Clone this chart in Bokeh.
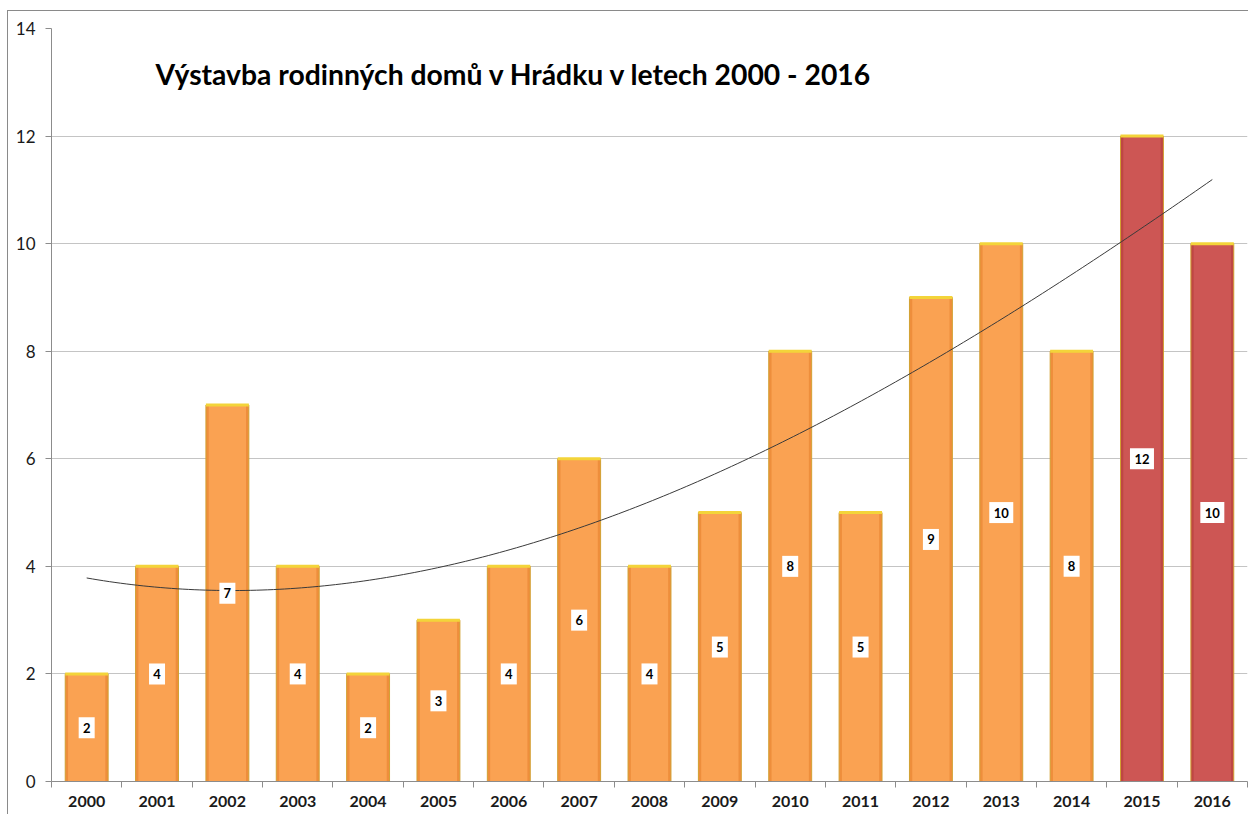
import numpy as np
from bokeh.plotting import figure
from bokeh.models import ColumnDataSource, FixedTicker, Label, Range1d
from bokeh.core.properties import value
from bokeh.embed import file_html
from bokeh.resources import INLINE

# ---- data ----
years = [2000, 2001, 2002, 2003, 2004, 2005, 2006, 2007, 2008,
         2009, 2010, 2011, 2012, 2013, 2014, 2015, 2016]
houses = [2, 4, 7, 4, 2, 3, 4, 6, 4, 5, 8, 5, 9, 10, 8, 12, 10]
highlight_years = [2015, 2016]
title_text = "Výstavba rodinných domů v Hrádku v letech 2000 - 2016"
y_ticks = [0, 2, 4, 6, 8, 10, 12, 14]
trend_order = 3

ORANGE = "#FAA252"
ORANGE_EDGE = "#EE8E3C"
RED = "#CD5654"
RED_EDGE = "#BE4744"
BAR_W = 0.61

fills = [RED if y in highlight_years else ORANGE for y in years]
edges = [RED_EDGE if y in highlight_years else ORANGE_EDGE for y in years]
labs = [str(h) for h in houses]
src = ColumnDataSource(dict(
    x=years, top=houses, fill=fills, edge=edges,
    mid=[h / 2 for h in houses], lab=labs,
    boxw=[8 + 8 * len(s) for s in labs],
    x0=[y - BAR_W / 2 for y in years], x1=[y + BAR_W / 2 for y in years],
))

p = figure(width=1248, height=814, output_backend="svg", toolbar_location=None,
           x_range=Range1d(years[0] - 0.5, years[-1] + 0.5),
           y_range=Range1d(0, 14),
           min_border_left=51, min_border_right=1, min_border_top=28,
           min_border_bottom=33)
p.stylesheets = [":host::after { content: ''; position: absolute; left: 7px; top: 10px; "
                 "right: 0px; bottom: 0px; border-left: 1px solid #8a8a8a; "
                 "border-top: 1px solid #8a8a8a; pointer-events: none; z-index: 10; }"]
p.outline_line_color = None
p.background_fill_color = "white"
p.border_fill_color = "white"

# grid
p.xgrid.grid_line_color = None
p.ygrid.grid_line_color = "#C4C4C4"
p.ygrid.grid_line_width = 1

# y axis
p.yaxis.ticker = FixedTicker(ticks=y_ticks)
p.yaxis.axis_line_color = "#8C8C8C"
p.yaxis.major_tick_line_color = "#8C8C8C"
p.yaxis.major_tick_out = 6
p.yaxis.major_tick_in = 0
p.yaxis.minor_tick_line_color = None
p.yaxis.major_label_text_font = "Lato"
p.yaxis.major_label_text_font_size = "17px"
p.yaxis.major_label_text_color = "#1a1a1a"
p.yaxis.major_label_standoff = 10

# x axis: labels at centres, ticks at boundaries
p.xaxis.ticker = FixedTicker(ticks=years,
                             minor_ticks=[y - 0.5 for y in years] + [years[-1] + 0.5])
p.xaxis.major_label_overrides = {y: str(y) for y in years}
p.xaxis.axis_line_color = "#8C8C8C"
p.xaxis.major_tick_line_color = None
p.xaxis.minor_tick_line_color = "#8C8C8C"
p.xaxis.minor_tick_out = 6
p.xaxis.minor_tick_in = 0
p.xaxis.major_label_text_font = "Lato"
p.xaxis.major_label_text_font_style = "bold"
p.xaxis.major_label_text_font_size = "16px"
p.xaxis.major_label_text_color = "#1a1a1a"
p.xaxis.major_label_standoff = 8

# bars
p.vbar(x="x", top="top", bottom=0, width=BAR_W, source=src,
       fill_color="edge", line_color="#D2A032", line_width=1)
p.vbar(x="x", top="top", bottom=0, width=BAR_W - 0.08, source=src,
       fill_color="fill", line_color=None)
p.segment(x0="x0", x1="x1", y0="top", y1="top", source=src,
          line_color="#F3D43A", line_width=3)

# polynomial trendline (least squares, as in the spreadsheet)
coef = np.polyfit(np.array(years, dtype=float) - years[0], houses, trend_order)
tx = np.linspace(years[0], years[-1], 200)
ty = np.polyval(coef, tx - years[0])
p.line(tx, ty, line_color="#3a3a3a", line_width=1)

# data labels
p.rect(x="x", y="mid", width="boxw", height=21, width_units="screen",
       height_units="screen", source=src, fill_color="white", line_color=None)
p.text(x="x", y="mid", text="lab", source=src,
       text_align="center", text_baseline="middle",
       text_font=value("Lato"), text_font_style="bold",
       text_font_size="13px", text_color="black")

# title inside plot
title = Label(x=104, y=708, x_units="screen", y_units="screen",
              text=title_text, text_font="Lato", text_font_style="bold",
              text_font_size="28.3px", text_color="black",
              text_baseline="middle", text_align="left")
p.add_layout(title)

open("out.html", "w").write(file_html(p, INLINE))
